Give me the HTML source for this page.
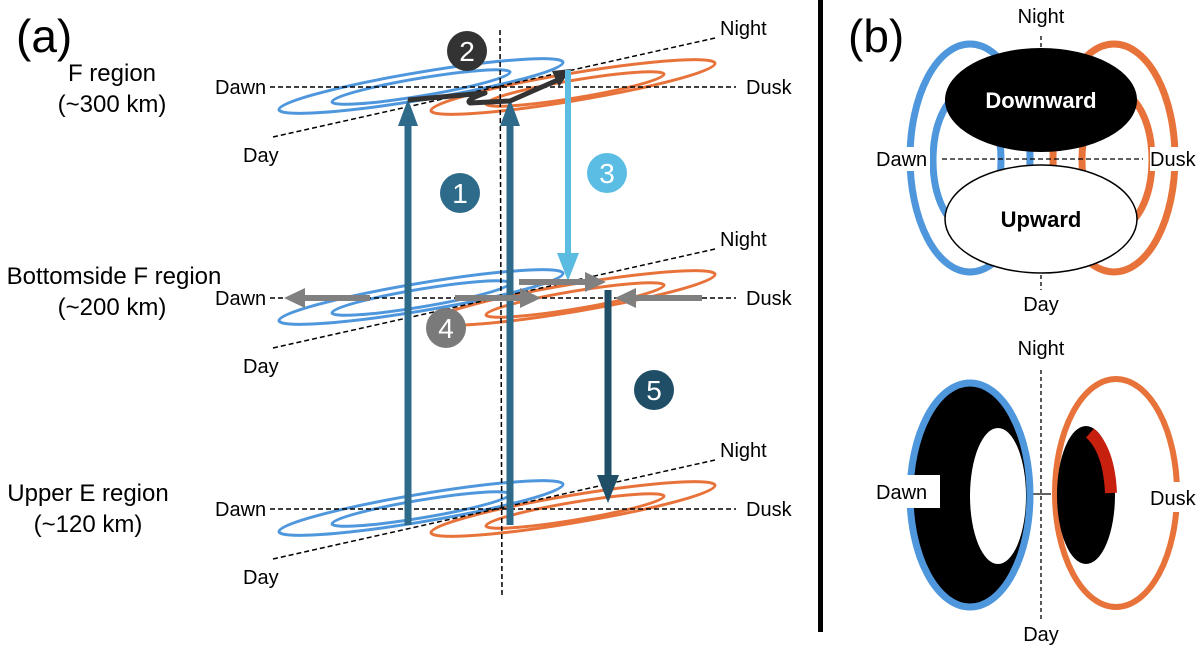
<!DOCTYPE html>
<html><head><meta charset="utf-8"><style>
html,body{margin:0;padding:0;background:#fff;}
svg{display:block;font-family:"Liberation Sans",Arial,sans-serif;}
</style></head><body>
<svg width="1200" height="647" viewBox="0 0 1200 647" xmlns="http://www.w3.org/2000/svg">
<defs>
<g id="lvl">
  <g transform="translate(421,86) skewY(-9.4)"><ellipse cx="0" cy="0" rx="142" ry="14" fill="none" stroke="#4f97dc" stroke-width="3"/></g>
  <g transform="translate(421,87) skewY(-9.4)"><ellipse cx="0" cy="0" rx="89" ry="9" fill="none" stroke="#4f97dc" stroke-width="3"/></g>
  <g transform="translate(573,87) skewY(-9.4)"><ellipse cx="0" cy="0" rx="142" ry="14" fill="none" stroke="#e8733a" stroke-width="3"/></g>
  <g transform="translate(575,89) skewY(-9.4)"><ellipse cx="0" cy="0" rx="89" ry="9" fill="none" stroke="#e8733a" stroke-width="3"/></g>
  <line x1="270" y1="87" x2="736" y2="87" stroke="#000" stroke-width="1.5" stroke-dasharray="5,3"/>
  <line x1="273" y1="137" x2="715" y2="38" stroke="#000" stroke-width="1.5" stroke-dasharray="5,3"/>
  <text x="215" y="94" font-size="20">Dawn</text>
  <text x="746" y="94" font-size="20">Dusk</text>
  <text x="243" y="162" font-size="20">Day</text>
  <text x="720" y="35" font-size="20">Night</text>
</g>
</defs>
<text x="16" y="52" font-size="46">(a)</text>
<text x="112" y="81" font-size="24" text-anchor="middle">F region</text>
<text x="112" y="112" font-size="24" text-anchor="middle">(~300 km)</text>
<text x="114" y="284" font-size="24" text-anchor="middle">Bottomside F region</text>
<text x="112" y="315" font-size="24" text-anchor="middle">(~200 km)</text>
<text x="88" y="501" font-size="24" text-anchor="middle">Upper E region</text>
<text x="88" y="532" font-size="24" text-anchor="middle">(~120 km)</text>

<use href="#lvl"/>
<use href="#lvl" y="211"/>
<use href="#lvl" y="422"/>

<line x1="500" y1="30" x2="502" y2="598" stroke="#000" stroke-width="1.5" stroke-dasharray="5,3"/>

<g fill="#2e6a8a" stroke="none">
  <rect x="404.5" y="120" width="7" height="405"/>
  <polygon points="408,99 398,126 418,126"/>
  <rect x="506.5" y="120" width="7" height="405"/>
  <polygon points="510,99 500,126 520,126"/>
</g>
<path d="M408,100 L485,93 Q465,100 470,103 L510,101 L560,79" fill="none" stroke="#333" stroke-width="5" stroke-linejoin="round"/>
<polygon points="571,69 552,71 559,87" fill="#333"/>
<rect x="565" y="70" width="6" height="190" fill="#5bbbe0"/>
<polygon points="568,281 557,253 579,253" fill="#5bbbe0"/>
<rect x="604.5" y="290" width="7" height="190" fill="#1f4e66"/>
<polygon points="608,503 597,475 619,475" fill="#1f4e66"/>
<g fill="#808080">
  <rect x="300" y="295" width="70" height="6"/>
  <polygon points="284,298 305,288 305,308"/>
  <rect x="455" y="295" width="70" height="6"/>
  <polygon points="541,298 520,288 520,308"/>
  <rect x="519" y="279" width="70" height="6"/>
  <polygon points="606,282 585,272 585,292"/>
  <rect x="630" y="295" width="72" height="6"/>
  <polygon points="615,298 636,288 636,308"/>
</g>
<g font-size="28" text-anchor="middle" fill="#fff">
  <circle cx="467" cy="51" r="20" fill="#333"/><text x="467" y="61">2</text>
  <circle cx="460" cy="193" r="20" fill="#2e6a8a"/><text x="460" y="203">1</text>
  <circle cx="607" cy="173" r="20" fill="#5bbde3"/><text x="607" y="183">3</text>
  <circle cx="446" cy="328" r="20" fill="#7a7a7a"/><text x="446" y="338">4</text>
  <circle cx="654" cy="390" r="20" fill="#1f4e66"/><text x="654" y="400">5</text>
</g>

<rect x="818" y="0" width="5" height="632" fill="#000"/>

<text x="848" y="52" font-size="46">(b)</text>
<text x="1041" y="23" font-size="20" text-anchor="middle">Night</text>
<line x1="1041" y1="36" x2="1041" y2="50" stroke="#000" stroke-width="1.3" stroke-dasharray="4,3"/>
<ellipse cx="970" cy="158" rx="60" ry="114" fill="none" stroke="#4f97dc" stroke-width="7"/>
<ellipse cx="967" cy="160" rx="34" ry="68" fill="none" stroke="#4f97dc" stroke-width="7"/>
<ellipse cx="1114" cy="158" rx="61" ry="114" fill="none" stroke="#e8733a" stroke-width="7"/>
<ellipse cx="1117" cy="160" rx="35" ry="68" fill="none" stroke="#e8733a" stroke-width="7"/>
<rect x="870" y="147" width="60" height="24" fill="#fff"/>
<rect x="1150" y="147" width="50" height="24" fill="#fff"/>
<ellipse cx="1041" cy="100" rx="96" ry="52" fill="#000"/>
<text x="1041" y="108" font-size="22" font-weight="bold" fill="#fff" text-anchor="middle">Downward</text>
<line x1="942" y1="159" x2="1143" y2="159" stroke="#000" stroke-width="1.3" stroke-dasharray="5,3"/>
<ellipse cx="1041" cy="219" rx="96" ry="54" fill="#fff" stroke="#000" stroke-width="1.5"/>
<text x="1041" y="227" font-size="22" font-weight="bold" text-anchor="middle">Upward</text>
<text x="876" y="166" font-size="20">Dawn</text>
<text x="1150" y="166" font-size="20">Dusk</text>
<line x1="1041" y1="275" x2="1041" y2="290" stroke="#000" stroke-width="1.3" stroke-dasharray="4,3"/>
<text x="1041" y="311" font-size="20" text-anchor="middle">Day</text>

<text x="1041" y="355" font-size="20" text-anchor="middle">Night</text>
<line x1="1041" y1="370" x2="1041" y2="620" stroke="#000" stroke-width="1.3" stroke-dasharray="4,3"/>
<line x1="1031" y1="494" x2="1051" y2="494" stroke="#000" stroke-width="1.3"/>
<ellipse cx="970" cy="495" rx="60" ry="112" fill="#000" stroke="#4f97dc" stroke-width="7"/>
<ellipse cx="998" cy="496" rx="28" ry="68" fill="#fff"/>
<rect x="875" y="475" width="65" height="33" fill="#fff"/>
<text x="876" y="499" font-size="20">Dawn</text>
<ellipse cx="1116" cy="493" rx="61" ry="114" fill="none" stroke="#e8733a" stroke-width="6"/>
<rect x="1150" y="482" width="50" height="30" fill="#fff"/>
<text x="1150" y="505" font-size="20">Dusk</text>
<ellipse cx="1086" cy="495" rx="29" ry="69" fill="#000"/>
<path d="M1090,433 Q1109,450 1111,493" fill="none" stroke="#c8200f" stroke-width="12"/>
<text x="1041" y="641" font-size="20" text-anchor="middle">Day</text>
</svg>
</body></html>
